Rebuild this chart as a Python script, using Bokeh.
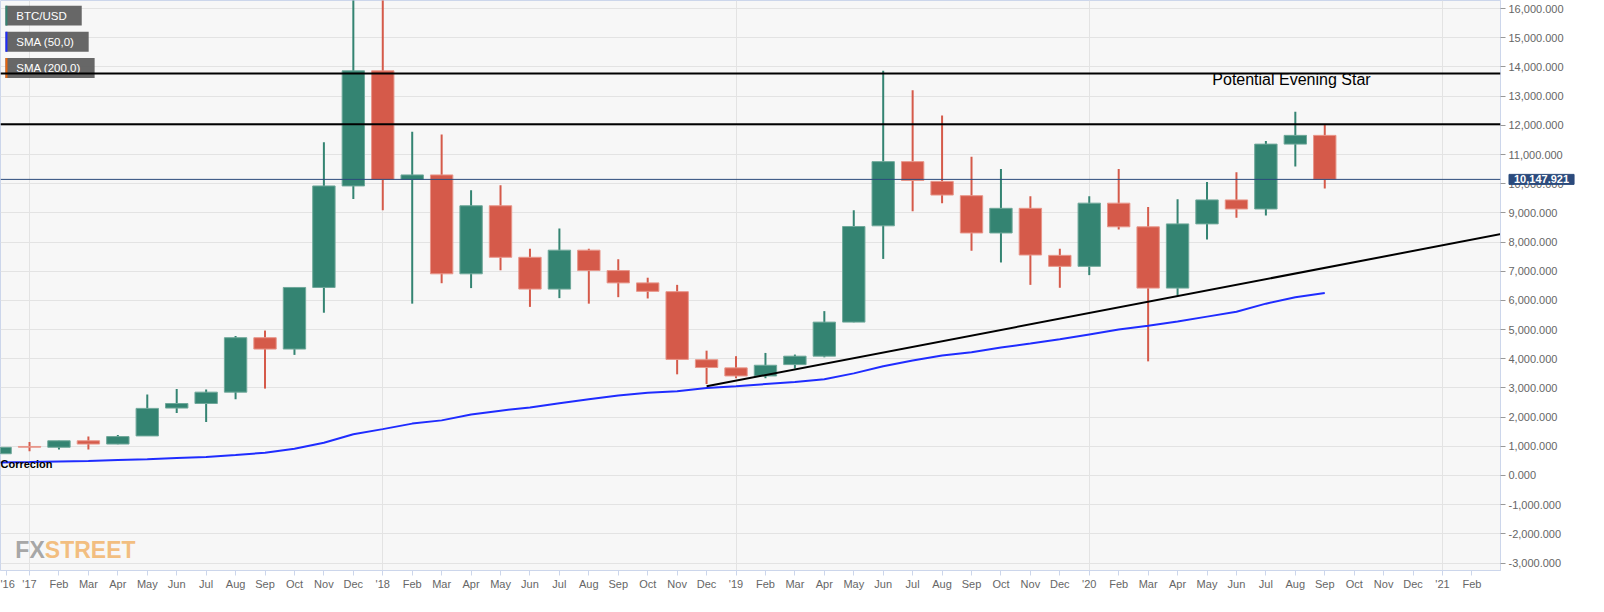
from bokeh.plotting import figure
from bokeh.models import (ColumnDataSource, FixedTicker, NumeralTickFormatter, Range1d,
                          Span, Label, BoxAnnotation)
from bokeh.embed import file_html
from bokeh.resources import INLINE

# ---------------- data ----------------
# month index: 0 = Jan 2017 (Dec 2016 = -1)
month_idx = list(range(-1, 45))
opens = [745, 995, 967, 1189, 1078, 1356, 2311, 2467, 2856, 4722, 4333, 6444,
         9922, 13867, 10144, 10300, 6911, 9244, 7478, 6389, 7722, 7022, 6600, 6300,
         3967, 3689, 3411, 3800, 4089, 5256, 8556, 10756, 10078, 9589, 8311, 9156,
         7544, 7167, 9333, 8522, 6422, 8622, 9444, 9133, 11356, 11656]
highs = [975, 1144, 1190, 1333, 1389, 2778, 2967, 2944, 4778, 4967, 6450, 11422,
         19666, 17170, 11778, 11689, 9778, 9944, 7767, 8467, 7767, 7411, 6778, 6533,
         4278, 4089, 4200, 4144, 5633, 9089, 13867, 13200, 12333, 10922, 10500, 9567,
         7767, 9567, 10500, 9200, 9467, 10056, 10389, 11467, 12467, 12033]
lows = [740, 833, 889, 889, 1070, 1350, 2144, 1833, 2611, 2978, 4133, 5578,
        9478, 9089, 5889, 6589, 6422, 7033, 5778, 6078, 5889, 6111, 6067, 3467,
        3133, 3333, 3333, 3667, 4050, 5250, 7422, 9056, 9333, 7700, 7300, 6533,
        6433, 6867, 8433, 3911, 6167, 8089, 8833, 8911, 10589, 9833]
closes = [965, 970, 1189, 1078, 1333, 2300, 2467, 2856, 4722, 4333, 6444, 9922,
          13867, 10144, 10300, 6911, 9244, 7478, 6389, 7722, 7022, 6600, 6311, 3978,
          3700, 3411, 3778, 4089, 5256, 8533, 10756, 10111, 9611, 8311, 9156, 7556,
          7167, 9333, 8522, 6422, 8622, 9444, 9133, 11356, 11656, 10148]
sma50 = [444, 460, 480, 500, 530, 560, 600, 630, 700, 780, 920, 1120,
         1411, 1589, 1778, 1889, 2089, 2222, 2333, 2478, 2611, 2744, 2833, 2889,
         3000, 3056, 3133, 3200, 3300, 3500, 3744, 3944, 4111, 4222, 4389, 4522,
         4667, 4833, 5000, 5133, 5278, 5444, 5611, 5889, 6111, 6256]
trend_x = [23, 50]
trend_y = [3056, 8275]
resistance_levels = [13780, 12040]
last_price = 10147.921
tick_months = [-0.77] + list(range(0, 50))
tick_labels = ["'16",
               "'17", "Feb", "Mar", "Apr", "May", "Jun", "Jul", "Aug", "Sep", "Oct", "Nov", "Dec",
               "'18", "Feb", "Mar", "Apr", "May", "Jun", "Jul", "Aug", "Sep", "Oct", "Nov", "Dec",
               "'19", "Feb", "Mar", "Apr", "May", "Jun", "Jul", "Aug", "Sep", "Oct", "Nov", "Dec",
               "'20", "Feb", "Mar", "Apr", "May", "Jun", "Jul", "Aug", "Sep", "Oct", "Nov", "Dec",
               "'21", "Feb"]
year_ticks = [0, 12, 24, 36, 48]
y_ticks = list(range(-3000, 17000, 1000))
legend_items = ["BTC/USD", "SMA (50,0)", "SMA (200,0)"]
legend_colors = ["#348472", "#1f2cff", "#e8660f"]

# ---------------- styling ----------------
GREEN, RED = "#348472", "#d55a4a"
GREEN_EDGE, RED_EDGE = "#6fa89a", "#e8968a"
FONT = "Liberation Sans"
FW, FH = 1500, 570
SX, SY = FW / 1514.0, FH / 586.0
X0, X1 = -0.986, 49.97
PPM = FW / (X1 - X0)          # pixels per month

up = [c >= o for o, c in zip(opens, closes)]
src = ColumnDataSource(dict(
    x=month_idx, o=opens, h=highs, l=lows, c=closes,
    top=[max(o, c) for o, c in zip(opens, closes)],
    bot=[min(o, c) for o, c in zip(opens, closes)],
    color=[GREEN if u else RED for u in up],
    edge=[GREEN_EDGE if u else RED_EDGE for u in up],
))

p = figure(frame_width=FW, frame_height=FH, output_backend="svg", toolbar_location=None,
           x_range=Range1d(X0, X1), y_range=Range1d(-3256, 16278),
           y_axis_location="right", min_border_left=0, min_border_top=0,
           min_border_right=88, min_border_bottom=26)
p.background_fill_color = "#f7f7f7"
p.border_fill_color = "white"
p.outline_line_color = "#ccd6eb"

# grid
p.ygrid.ticker = FixedTicker(ticks=y_ticks)
p.ygrid.grid_line_color = "#e3e3e3"
p.xgrid.ticker = FixedTicker(ticks=year_ticks)
p.xgrid.grid_line_color = "#e3e3e3"

# axes
xa = p.xaxis[0]
xa.ticker = FixedTicker(ticks=tick_months)
xa.major_label_overrides = {m: t for m, t in zip(tick_months, tick_labels)}
xa.axis_line_color = "#ccd6eb"
xa.major_tick_line_color = "#ccd6eb"
xa.major_tick_out = 5
xa.major_tick_in = 0
xa.minor_tick_line_color = None
xa.major_label_standoff = 2
xa.major_label_text_font = FONT
xa.major_label_text_font_size = "11px"
xa.major_label_text_color = "#666666"

ya = p.yaxis[0]
ya.ticker = FixedTicker(ticks=y_ticks)
ya.formatter = NumeralTickFormatter(format="0,0.000")
ya.axis_line_color = "#ccd6eb"
ya.major_tick_line_color = "#999999"
ya.major_tick_out = 5
ya.major_tick_in = 0
ya.minor_tick_line_color = None
ya.major_label_standoff = 3
ya.major_label_text_font = FONT
ya.major_label_text_font_size = "11px"
ya.major_label_text_color = "#666666"

# watermark
p.add_layout(Label(x=15 * SX, y=FH - 565 * SY, x_units="screen", y_units="screen", text="FX",
                   text_font=FONT, text_font_size="23px", text_font_style="bold",
                   text_color="#9c9c9c", text_alpha=0.9, text_baseline="alphabetic"))
p.add_layout(Label(x=15 * SX + 29.5, y=FH - 565 * SY, x_units="screen", y_units="screen",
                   text="STREET", text_font=FONT, text_font_size="23px", text_font_style="bold",
                   text_color="#f2b46a", text_alpha=0.85, text_baseline="alphabetic"))

# candles
p.segment(x0="x", y0="l", x1="x", y1="h", source=src, line_color="color", line_width=2)
p.vbar(x="x", width=0.76, top="top", bottom="bot", source=src,
       fill_color="color", line_color="edge", line_width=1)

# SMA 50
p.line(month_idx, sma50, line_color="#1f2cff", line_width=2)

# trend line
p.line(trend_x, trend_y, line_color="black", line_width=2)

# legend boxes (top-left)
box_rows = [(5.3, 25.7, 82), (32, 52.7, 89), (59, 79.7, 95)]
for name, col, (t, b, r) in zip(legend_items, legend_colors, box_rows):
    p.add_layout(BoxAnnotation(left=5 * SX, right=r * SX, top=FH - t * SY, bottom=FH - b * SY,
                               left_units="screen", right_units="screen",
                               top_units="screen", bottom_units="screen",
                               fill_color="#5f5f5f", fill_alpha=0.95, line_color=None))
    p.add_layout(BoxAnnotation(left=5 * SX, right=7 * SX, top=FH - t * SY, bottom=FH - b * SY,
                               left_units="screen", right_units="screen",
                               top_units="screen", bottom_units="screen",
                               fill_color=col, fill_alpha=1, line_color=None))
    p.add_layout(Label(x=16 * SX, y=FH - (t + b) / 2 * SY, x_units="screen", y_units="screen",
                       text=name, text_font=FONT, text_font_size="11.5px", text_color="white",
                       text_baseline="middle"))

# resistance lines and current price line
for lvl in resistance_levels:
    p.add_layout(Span(location=lvl, dimension="width", line_color="black", line_width=2))
p.add_layout(Span(location=last_price, dimension="width", line_color="#2b4a7c", line_width=1))

# price tag on the axis (side panel so it is not clipped)
tag = Label(x=X1 + 8.5 / PPM, y=last_price, text="{:,.3f}".format(last_price),
            text_font=FONT, text_font_size="11px", text_font_style="bold",
            text_color="white", text_baseline="middle", text_align="left",
            background_fill_color="#2b4a7c", border_line_color="#2b4a7c")
try:
    tag.padding = (5, 1)
except Exception:
    pass
p.add_layout(tag, "right")

# texts
p.add_layout(Label(x=40.18, y=13560, text="Potential Evening Star", text_font=FONT,
                   text_font_size="16px", text_color="black", text_baseline="alphabetic"))
p.add_layout(Label(x=X0, y=378, text="Correcion", text_font=FONT, text_font_size="11px",
                   text_font_style="bold", text_color="black", text_baseline="middle"))

open("out.html", "w").write(file_html(p, INLINE))
